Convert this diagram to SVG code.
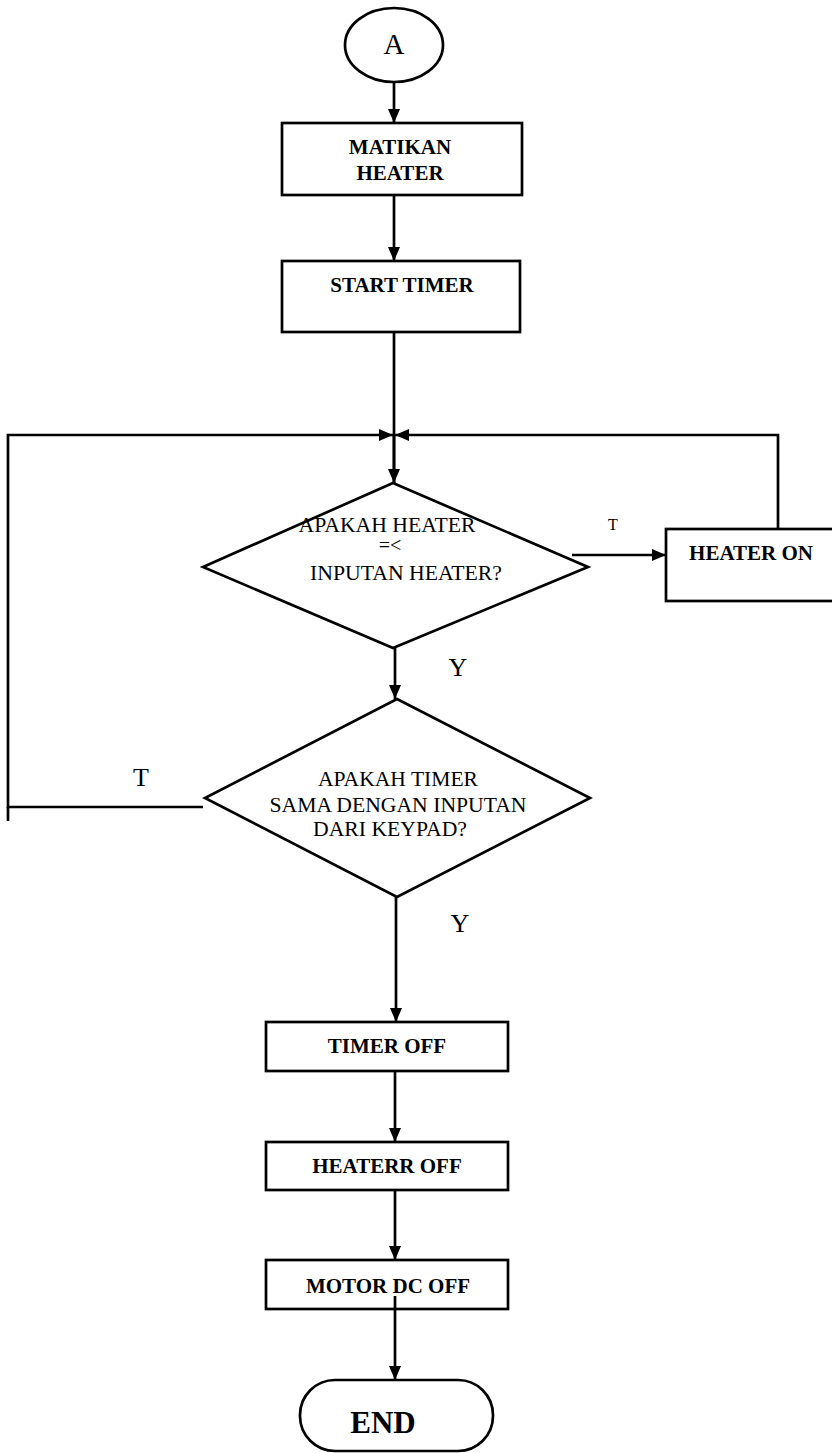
<svg xmlns="http://www.w3.org/2000/svg" width="832" height="1453" viewBox="0 0 832 1453">
<style>
.s{fill:#fff;stroke:#000;stroke-width:2.7}
.c{fill:none;stroke:#000;stroke-width:2.7}
.b{font-family:"Liberation Serif",serif;font-weight:bold;font-size:21px;fill:#000;text-anchor:middle}
.r{font-family:"Liberation Serif",serif;font-size:20px;fill:#000;text-anchor:middle}
.l{font-family:"Liberation Serif",serif;font-size:26px;fill:#000;text-anchor:middle}
</style>
<defs>
<marker id="ah" markerWidth="14" markerHeight="12" refX="14" refY="6" orient="auto" markerUnits="userSpaceOnUse">
<path d="M0,0 L14,6 L0,12 Z" fill="#000"/>
</marker>
</defs>
<rect width="832" height="1453" fill="#fff"/>
<g id="connectors">
<line class="c" x1="394" y1="82" x2="394" y2="123" marker-end="url(#ah)"/>
<line class="c" x1="394" y1="195" x2="394" y2="261" marker-end="url(#ah)"/>
<line class="c" x1="394" y1="332" x2="394" y2="483"/>
<line class="c" x1="394" y1="436" x2="394" y2="483" marker-end="url(#ah)"/>
<polyline class="c" points="203,807 8,807 8,435 393,435" marker-end="url(#ah)"/>
<line class="c" x1="8" y1="807" x2="8" y2="821"/>
<polyline class="c" points="778,529 778,435 395,435" marker-end="url(#ah)"/>
<line class="c" x1="572" y1="555" x2="666" y2="555" marker-end="url(#ah)"/>
<line class="c" x1="395" y1="648" x2="395" y2="699" marker-end="url(#ah)"/>
<line class="c" x1="396" y1="897" x2="396" y2="1022" marker-end="url(#ah)"/>
<line class="c" x1="395" y1="1071" x2="395" y2="1142" marker-end="url(#ah)"/>
<line class="c" x1="395" y1="1190" x2="395" y2="1260" marker-end="url(#ah)"/>
<text class="r" x="613" y="530" style="font-size:16px">T</text>
<text class="l" x="458" y="676">Y</text>
<text class="l" x="141" y="786">T</text>
<text class="l" x="460" y="932">Y</text>
</g>
<g id="start">
<ellipse class="s" cx="394" cy="45" rx="49" ry="37"/>
<text class="r" x="394" y="54" style="font-size:29px">A</text>
</g>
<g id="matikan">
<rect class="s" x="282" y="123" width="240" height="72"/>
<text class="b" x="400" y="154">MATIKAN</text>
<text class="b" x="400" y="180">HEATER</text>
</g>
<g id="starttimer">
<rect class="s" x="282" y="261" width="238" height="71"/>
<text class="b" x="402" y="292">START TIMER</text>
</g>
<g id="dec1">
<polygon class="s" points="393,483 588,567 393,648 203,567"/>
<text class="r" x="387" y="532" textLength="177" lengthAdjust="spacingAndGlyphs">APAKAH HEATER</text>
<text class="r" x="390" y="552">=&lt;</text>
<text class="r" x="406" y="580" textLength="192" lengthAdjust="spacingAndGlyphs">INPUTAN HEATER?</text>
</g>
<g id="heateron">
<rect class="s" x="666" y="529" width="180" height="72"/>
<text class="b" x="751" y="560">HEATER ON</text>
</g>
<g id="dec2">
<polygon class="s" points="397,699 590,798 397,897 205,798"/>
<text class="r" x="398" y="786" textLength="160" lengthAdjust="spacingAndGlyphs">APAKAH TIMER</text>
<text class="r" x="398" y="812" textLength="257" lengthAdjust="spacingAndGlyphs">SAMA DENGAN INPUTAN</text>
<text class="r" x="390" y="836" textLength="154" lengthAdjust="spacingAndGlyphs">DARI KEYPAD?</text>
</g>
<g id="timeroff">
<rect class="s" x="266" y="1022" width="242" height="49"/>
<text class="b" x="387" y="1053">TIMER OFF</text>
</g>
<g id="heaterroff">
<rect class="s" x="266" y="1142" width="242" height="48"/>
<text class="b" x="387" y="1173">HEATERR OFF</text>
</g>
<g id="motoroff">
<rect class="s" x="266" y="1260" width="242" height="49"/>
<text class="b" x="388" y="1293">MOTOR DC OFF</text>
</g>
<g id="end">
<rect class="s" x="300" y="1380" width="193" height="71" rx="35" ry="35"/>
<text class="b" x="383" y="1433" style="font-size:31px">END</text>
</g>
<line class="c" x1="395" y1="1296" x2="395" y2="1380" marker-end="url(#ah)"/>
</svg>
